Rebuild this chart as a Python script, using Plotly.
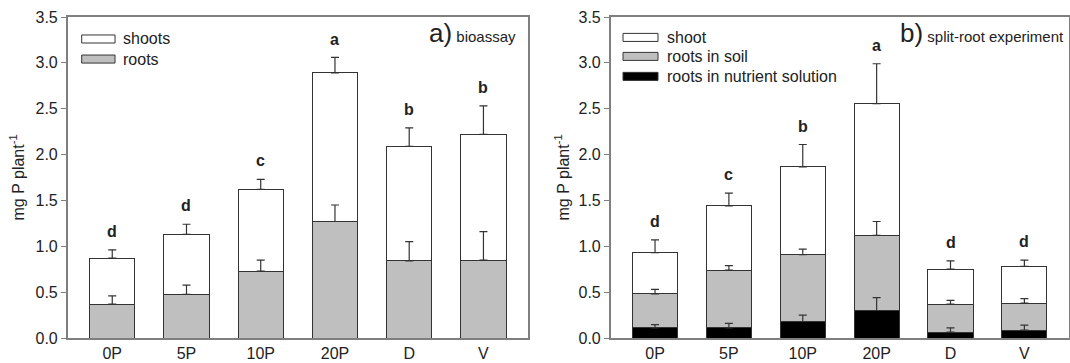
import plotly.graph_objects as go

categories = ["0P", "5P", "10P", "20P", "D", "V"]

# Panel a) bioassay
a_roots = [0.37, 0.476, 0.73, 1.27, 0.84, 0.85]
a_roots_err = [0.09, 0.10, 0.12, 0.18, 0.21, 0.31]
a_shoots = [0.50, 0.654, 0.89, 1.62, 1.25, 1.37]
a_shoots_err = [0.09, 0.11, 0.11, 0.17, 0.20, 0.31]
a_letters = ["d", "d", "c", "a", "b", "b"]

# Panel b) split-root experiment
b_nutr = [0.11, 0.11, 0.18, 0.30, 0.065, 0.085]
b_nutr_err = [0.035, 0.05, 0.07, 0.14, 0.045, 0.055]
b_soil = [0.37, 0.63, 0.73, 0.82, 0.305, 0.295]
b_soil_err = [0.05, 0.05, 0.06, 0.15, 0.04, 0.05]
b_shoot = [0.45, 0.70, 0.955, 1.435, 0.38, 0.40]
b_shoot_err = [0.14, 0.14, 0.245, 0.435, 0.09, 0.07]
b_letters = ["d", "c", "b", "a", "d", "d"]

FONT = "Liberation Sans, Arial, sans-serif"
EDGE = "#333333"
GRAY = "#bfbfbf"
AXC = "#7f7f7f"
TXT = "#222222"


def bar(y, color, name, xa, ya):
    return go.Bar(
        x=categories, y=y, name=name, xaxis=xa, yaxis=ya,
        width=0.61, showlegend=False,
        marker=dict(color=color, line=dict(color=EDGE, width=1)),
    )


def errs(tops, err, xa, ya):
    # error bars drawn on top of all bars, at the stacked segment tops
    return go.Scatter(
        x=categories, y=tops, xaxis=xa, yaxis=ya, mode="markers",
        marker=dict(size=1, opacity=0), showlegend=False, hoverinfo="skip",
        error_y=dict(type="data", array=err, arrayminus=[0] * len(err),
                     symmetric=False, color=EDGE, thickness=1.2, width=4),
    )


def cumsum(*series):
    out = []
    run = [0] * len(series[0])
    for s in series:
        run = [r + v for r, v in zip(run, s)]
        out.append(run)
    return out


a_tops = cumsum(a_roots, a_shoots)
b_tops = cumsum(b_nutr, b_soil, b_shoot)

fig = go.Figure()
fig.add_trace(bar(a_roots, GRAY, "roots", "x", "y"))
fig.add_trace(bar(a_shoots, "white", "shoots", "x", "y"))
fig.add_trace(bar(b_nutr, "black", "roots in nutrient solution", "x2", "y2"))
fig.add_trace(bar(b_soil, GRAY, "roots in soil", "x2", "y2"))
fig.add_trace(bar(b_shoot, "white", "shoot", "x2", "y2"))
fig.add_trace(errs(a_tops[0], a_roots_err, "x", "y"))
fig.add_trace(errs(a_tops[1], a_shoots_err, "x", "y"))
fig.add_trace(errs(b_tops[0], b_nutr_err, "x2", "y2"))
fig.add_trace(errs(b_tops[1], b_soil_err, "x2", "y2"))
fig.add_trace(errs(b_tops[2], b_shoot_err, "x2", "y2"))

annotations = []
shapes = []

# significance letters
for i, c in enumerate(categories):
    top_a = a_tops[1][i] + a_shoots_err[i]
    annotations.append(dict(x=c, y=top_a + 0.2, xref="x", yref="y", text=f"<b>{a_letters[i]}</b>",
                            showarrow=False, yanchor="middle", font=dict(size=16, color=TXT)))
    top_b = b_tops[2][i] + b_shoot_err[i]
    annotations.append(dict(x=c, y=top_b + 0.2, xref="x2", yref="y2", text=f"<b>{b_letters[i]}</b>",
                            showarrow=False, yanchor="middle", font=dict(size=16, color=TXT)))

# legends (drawn inside each panel)
legend_a = [("shoots", "white", 0.9315), ("roots", GRAY, 0.869)]
legend_b = [("shoot", "white", 0.9364), ("roots in soil", GRAY, 0.8773),
            ("roots in nutrient solution", "black", 0.815)]
for (items, xr, yr, x0, x1, xt) in [(legend_a, "x domain", "y domain", 0.0304, 0.1028, 0.116),
                                     (legend_b, "x2 domain", "y2 domain", 0.0269, 0.1033, 0.118)]:
    for label, color, yc in items:
        shapes.append(dict(type="rect", xref=xr, yref=yr, x0=x0, x1=x1, y0=yc - 0.0125, y1=yc + 0.0125,
                           fillcolor=color, line=dict(color=EDGE, width=1)))
        annotations.append(dict(x=xt, y=yc, xref=xr, yref=yr, text=label, showarrow=False,
                                xanchor="left", yanchor="middle", font=dict(size=16, color=TXT)))

# panel titles
annotations.append(dict(x=0.978, y=0.951, xref="x domain", yref="y domain",
                        text="<span style='font-size:26px'>a)</span> bioassay", showarrow=False,
                        xanchor="right", yanchor="middle", font=dict(size=15, color=TXT)))
annotations.append(dict(x=0.994, y=0.951, xref="x2 domain", yref="y2 domain",
                        text="<span style='font-size:26px'>b)</span> split-root experiment", showarrow=False,
                        xanchor="right", yanchor="middle", font=dict(size=15, color=TXT)))

# y titles
for xp in [17 / 1070, 562 / 1070]:
    annotations.append(dict(x=xp, y=0.5, xref="paper", yref="paper", text="mg P plant<sup>-1</sup>",
                            textangle=-90, showarrow=False, xanchor="center", yanchor="middle",
                            font=dict(size=16, color=TXT)))

xcommon = dict(range=[-0.6, 5.6], showline=True, linecolor=AXC, linewidth=1.5, mirror=True,
               ticks="", showgrid=False, zeroline=False, tickfont=dict(size=16, color=TXT))
ycommon = dict(range=[0, 3.5], dtick=0.5, tickformat=".1f", showline=True, linecolor=AXC, linewidth=1.5,
               mirror=True, ticks="outside", ticklen=5, tickcolor=AXC, showgrid=False, zeroline=False,
               tickfont=dict(size=16, color=TXT))

fig.update_layout(
    width=1070, height=363,
    margin=dict(l=0, r=0, t=17, b=25),
    paper_bgcolor="white", plot_bgcolor="white",
    barmode="stack", bargap=0.39,
    font=dict(family=FONT, color=TXT),
    xaxis=dict(domain=[67.7 / 1070, 528 / 1070], anchor="y", **xcommon),
    yaxis=dict(domain=[0, 1], anchor="x", **ycommon),
    xaxis2=dict(domain=[610.7 / 1070, 1068.7 / 1070], anchor="y2", **xcommon),
    yaxis2=dict(domain=[0, 1], anchor="x2", **ycommon),
    annotations=annotations, shapes=shapes,
    showlegend=False,
)

fig.write_html("out.html", config={"displayModeBar": False},
               post_script="document.body.style.margin='0';document.body.style.overflow='hidden';")
